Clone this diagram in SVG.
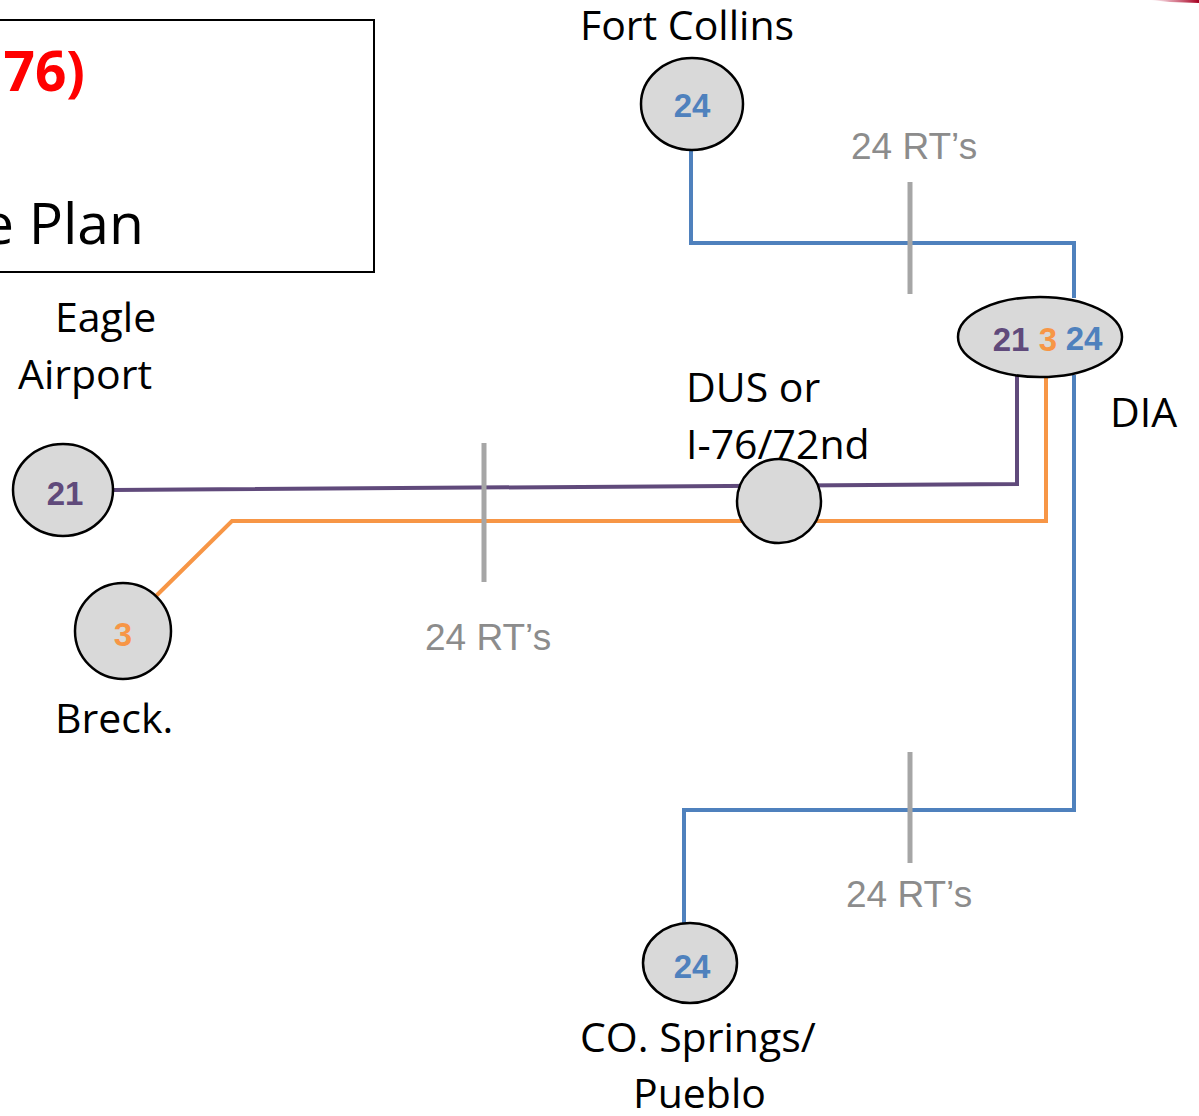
<svg xmlns="http://www.w3.org/2000/svg" width="1199" height="1116" viewBox="0 0 1199 1116">
<style>
.node{fill:#d9d9d9;stroke:#000;stroke-width:2.5}
.lbl{font-family:"Open Sans","Liberation Sans",sans-serif;font-size:41px;fill:#000}
.num{font-family:"Liberation Sans",Arial,sans-serif;font-weight:bold;font-size:33px;text-anchor:middle}
.rt{font-family:"Liberation Sans",Arial,sans-serif;font-size:37px;fill:#8c8c8c}
.tick{stroke:#a6a6a6;stroke-width:5;fill:none}
.blue{stroke:#4f81bd;stroke-width:4;fill:none}
.purple{stroke:#604a7b;stroke-width:4;fill:none}
.orange{stroke:#f79646;stroke-width:4;fill:none}
</style>
<defs>
<linearGradient id="rg" x1="0" y1="0" x2="1" y2="0">
<stop offset="0" stop-color="#c0143c" stop-opacity="0"/>
<stop offset="1" stop-color="#a50021"/>
</linearGradient>
</defs>
<rect width="1199" height="1116" fill="#fff"/>
<polygon points="1150,0 1199,0 1199,3 1170,2" fill="url(#rg)"/>
<g id="title">
<rect x="-10" y="20" width="384" height="252" fill="#fff" stroke="#000" stroke-width="2"/>
<text x="85" y="91" text-anchor="end" font-family="Open Sans,Liberation Sans,sans-serif" font-weight="bold" font-size="55" fill="#ff0000">76)</text>
<text x="144" y="244" text-anchor="end" font-family="Open Sans,Liberation Sans,sans-serif" font-size="57" fill="#000">e Plan</text>
</g>
<g id="connectors">
<polyline class="blue" points="691,150 691,243 1074,243 1074,298"/>
<polyline class="blue" points="1074,375 1074,810 684,810 684,924"/>
<polyline class="purple" points="113,490 1017,484 1017,374"/>
<polyline class="orange" points="155,597 232,521 1046,521 1046,377"/>
<line class="tick" x1="910" y1="182" x2="910" y2="294"/>
<line class="tick" x1="484" y1="443" x2="484" y2="582"/>
<line class="tick" x1="910" y1="752" x2="910" y2="863"/>
<text class="rt" x="851" y="159">24 RT’s</text>
<text class="rt" x="425" y="650">24 RT’s</text>
<text class="rt" x="846" y="907">24 RT’s</text>
</g>
<g id="fort-collins">
<ellipse class="node" cx="692" cy="104" rx="51" ry="46"/>
<text class="num" x="692" y="117" fill="#4f81bd">24</text>
<text class="lbl" x="580" y="40">Fort Collins</text>
</g>
<g id="dia">
<ellipse class="node" cx="1040" cy="337" rx="82" ry="40"/>
<text class="num" x="1011" y="351" fill="#604a7b">21</text>
<text class="num" x="1048" y="351" fill="#f79646">3</text>
<text class="num" x="1084" y="350" fill="#4f81bd">24</text>
<text class="lbl" x="1110" y="427">DIA</text>
</g>
<g id="dus">
<circle class="node" cx="779" cy="501" r="42"/>
<text class="lbl" x="686" y="402">DUS or</text>
<text class="lbl" x="686" y="459">I-76/72nd</text>
</g>
<g id="eagle">
<ellipse class="node" cx="63" cy="490" rx="50" ry="46"/>
<text class="num" x="65" y="505" fill="#604a7b">21</text>
<text class="lbl" x="55" y="332">Eagle</text>
<text class="lbl" x="18" y="389">Airport</text>
</g>
<g id="breck">
<circle class="node" cx="123" cy="631" r="48"/>
<text class="num" x="123" y="646" fill="#f79646">3</text>
<text class="lbl" x="55" y="733">Breck.</text>
</g>
<g id="co-springs">
<ellipse class="node" cx="690" cy="963" rx="47" ry="40"/>
<text class="num" x="692" y="978" fill="#4f81bd">24</text>
<text class="lbl" x="580" y="1052">CO. Springs/</text>
<text class="lbl" x="633" y="1108">Pueblo</text>
</g>
</svg>
